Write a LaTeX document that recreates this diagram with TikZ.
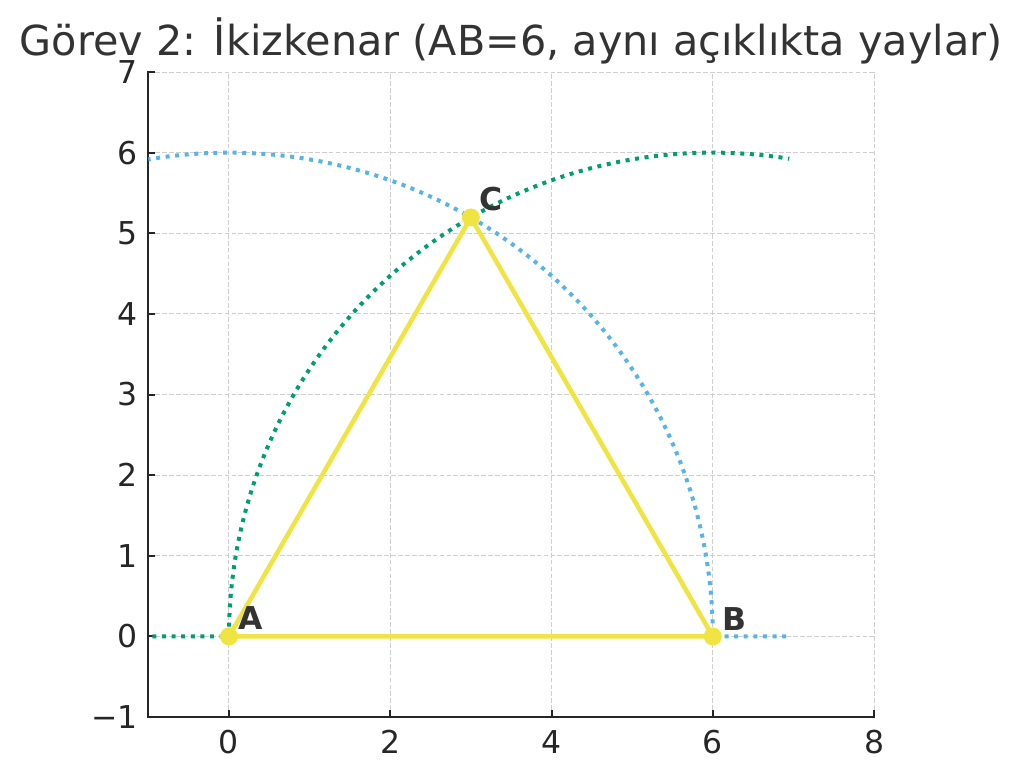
\documentclass[tikz,border=0pt]{standalone}
\usepackage{fontspec}
\setmainfont{DejaVu Sans}
\usepackage{xcolor}
\usetikzlibrary{positioning}

\definecolor{arcblue}{HTML}{56B4E9}
\definecolor{arcgreen}{HTML}{009E73}
\definecolor{triyellow}{HTML}{F0E442}
\definecolor{textgray}{HTML}{333333}
\definecolor{axisgray}{HTML}{262626}
\definecolor{gridgray}{HTML}{CFCFCF}

\begin{document}
\begin{tikzpicture}
  [
    x=60.47pt, y=60.47pt,
    gridline/.style={draw=gridgray, line width=0.75pt, dash pattern=on 3.6pt off 1.6pt},
    spine/.style={draw=axisgray, line width=1.7pt, line cap=rect},
    tickmark/.style={draw=axisgray, line width=1.5pt},
    xtick/.style={anchor=north, inner sep=0pt, yshift=-10pt, text=axisgray,
      font=\fontsize{23.6pt}{28pt}\selectfont},
    ytick/.style={anchor=east, inner sep=0pt, xshift=-8pt, text=axisgray,
      font=\fontsize{23.6pt}{28pt}\selectfont},
    arc/.style={line width=3pt, dash pattern=on 3pt off 4.2pt},
    side/.style={draw=triyellow, line width=3.4pt, line join=round},
    pt/.style={circle, fill=triyellow, inner sep=0pt, minimum size=13.5pt},
    lab/.style={inner sep=0pt, text=textgray, font=\fontsize{23.6pt}{28pt}\selectfont\bfseries}
  ]
  \useasboundingbox (-2.840,-1.744) rectangle (9.860,7.893);

  % grid and axes
  \draw [gridline, xstep=2, ystep=1] (-1,-1) grid (8,7);
  \draw [tickmark] (0,-1) -- ++(0,5.25pt) (2,-1) -- ++(0,5.25pt) (4,-1) -- ++(0,5.25pt)
                   (6,-1) -- ++(0,5.25pt) (8,-1) -- ++(0,5.25pt);
  \draw [tickmark] (-1,0) -- ++(5.25pt,0) (-1,1) -- ++(5.25pt,0) (-1,2) -- ++(5.25pt,0)
                   (-1,3) -- ++(5.25pt,0) (-1,4) -- ++(5.25pt,0) (-1,5) -- ++(5.25pt,0)
                   (-1,6) -- ++(5.25pt,0) (-1,7) -- ++(5.25pt,0);
  \draw [spine] (-1,7) -- (-1,-1) -- (8,-1);

  \node (x0) at (0,-1) [xtick] {0};
  \node (x2) at (2,-1) [xtick] {2};
  \node (x4) at (4,-1) [xtick] {4};
  \node (x6) at (6,-1) [xtick] {6};
  \node (x8) at (8,-1) [xtick] {8};

  \node (ym1) at (-1,-1) [ytick] {−1};
  \node (y0)  at (-1,0)  [ytick] {0};
  \node (y1)  at (-1,1)  [ytick] {1};
  \node (y2)  at (-1,2)  [ytick] {2};
  \node (y3)  at (-1,3)  [ytick] {3};
  \node (y4)  at (-1,4)  [ytick] {4};
  \node (y5)  at (-1,5)  [ytick] {5};
  \node (y6)  at (-1,6)  [ytick] {6};
  \node (y7)  at (-1,7)  [ytick] {7};

  \node (title) at (3.5,7.39) [text=textgray, font=\fontsize{31pt}{35pt}\selectfont]
    {Görev 2: İkizkenar (AB=6, aynı açıklıkta yaylar)};

  % the triangle
  \coordinate (A) at (0,0);
  \coordinate (B) at (6,0);
  \coordinate (C) at (3,5.196);
  \coordinate (blueend) at (6.91,0);
  \coordinate (greenend) at (-0.95,0);

  \draw [arc, arcblue]  (blueend) -- (B) arc[start angle=0, end angle=99.59, radius=6];
  \draw [arc, arcgreen] (greenend) -- (A) arc[start angle=180, end angle=80.9, radius=6];

  \draw [side] (A) -- (B) -- (C) -- cycle;

  \node (ptA) at (A) [pt] {};
  \node (ptB) at (B) [pt] {};
  \node (ptC) at (C) [pt] {};

  \node (labA) [lab, above right=0pt and 2pt of ptA] {A};
  \node (labB) [lab, above right=-1pt and 2pt of ptB] {B};
  \node (labC) [lab, above right=0pt and 1pt of ptC] {C};
\end{tikzpicture}
\end{document}
